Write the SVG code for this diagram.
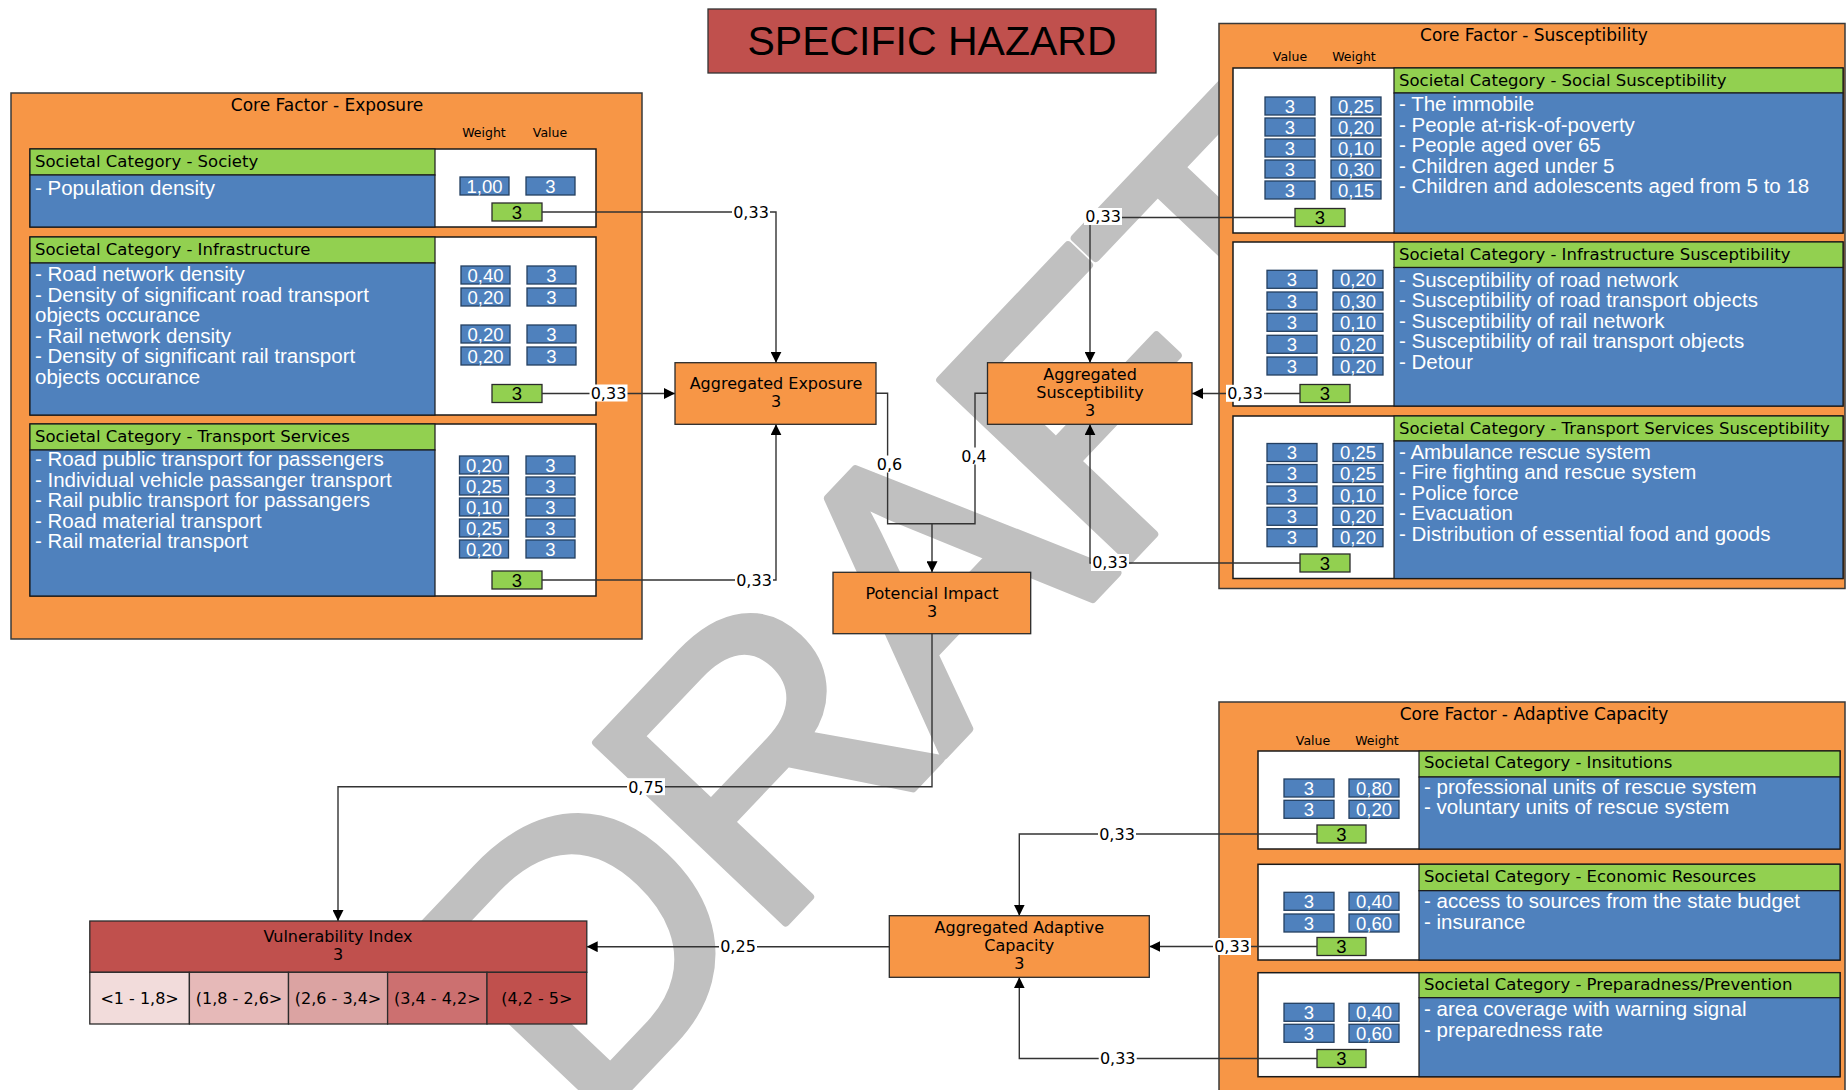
<svg xmlns="http://www.w3.org/2000/svg" width="1847" height="1090" viewBox="0 0 1847 1090">
<defs>
<marker id="arr" viewBox="0 0 10 10" refX="10" refY="5" markerWidth="11" markerHeight="11" markerUnits="userSpaceOnUse" orient="auto"><path d="M0,0 L10,5 L0,10 z" fill="#000"/></marker>
<style>
.core{fill:#f79646;stroke:#3a3a3a;stroke-width:1.5}
.cat{fill:#fff;stroke:#1a1a1a;stroke-width:1.5}
.hdr{fill:#92d050;stroke:#1a1a1a;stroke-width:1.2}
.bdy{fill:#4f81bd;stroke:#1a1a1a;stroke-width:1.2}
.vb{fill:#4f81bd;stroke:#243f60;stroke-width:1.3}
.gb{fill:#92d050;stroke:#2b2b2b;stroke-width:1.3}
.nd{fill:#f79646;stroke:#2b2b2b;stroke-width:1.3}
.ln{fill:none;stroke:#333;stroke-width:1.4}
.ar{marker-end:url(#arr)}
.lbg{fill:#fff}
.ttl{font-family:"DejaVu Sans",sans-serif;font-size:17px;fill:#000;text-anchor:middle}
.sm{font-family:"DejaVu Sans",sans-serif;font-size:12.5px;fill:#000;text-anchor:middle}
.th{font-family:"DejaVu Sans",sans-serif;font-size:16.5px;fill:#000}
.tb{font-family:"Liberation Sans",Arial,sans-serif;font-size:20.5px;fill:#fff}
.tv{font-family:"Liberation Sans",Arial,sans-serif;font-size:18.5px;fill:#fff;text-anchor:middle}
.tg{font-family:"Liberation Sans",Arial,sans-serif;font-size:18.5px;fill:#000;text-anchor:middle}
.tn{font-family:"DejaVu Sans",sans-serif;font-size:16px;fill:#000;text-anchor:middle}
.tl{font-family:"DejaVu Sans",sans-serif;font-size:16px;fill:#000;text-anchor:middle}
.wm{font-family:"Liberation Sans",Arial,sans-serif;font-size:380px;letter-spacing:-14px;fill:#c0c0c0;stroke:#c0c0c0;stroke-width:8;stroke-linejoin:round}
</style>
</defs>
<rect x="0" y="0" width="1847" height="1090" fill="#fff"/>
<text class="wm" transform="translate(585,1134) rotate(-46.5)" x="0" y="0">DRAFT</text>

<g id="title">
<rect x="708" y="9" width="448" height="64" fill="#c0504d" stroke="#333" stroke-width="1.3"/>
<text x="932" y="55" font-family="Liberation Sans, Arial, sans-serif" font-size="41" text-anchor="middle" fill="#000">SPECIFIC HAZARD</text>
</g>

<g id="core-exposure">
<rect class="core" x="11" y="93" width="631" height="546"/>
<text class="ttl" x="327" y="111">Core Factor - Exposure</text>
<text class="sm" x="484" y="137">Weight</text>
<text class="sm" x="550" y="137">Value</text>
</g>
<g id="cat-society">
<rect class="cat" x="30" y="149" width="566" height="78"/>
<rect class="hdr" x="30" y="149" width="405" height="26"/>
<rect class="bdy" x="30" y="175" width="405" height="52"/>
<text class="th" x="35" y="167">Societal Category - Society</text>
<text class="tb" x="35" y="195">- Population density</text>
<rect class="vb" x="460" y="177" width="49" height="18"/><text class="tv" x="484.5" y="192.6">1,00</text>
<rect class="vb" x="526" y="177" width="49" height="18"/><text class="tv" x="550.5" y="192.6">3</text>
<rect class="gb" x="492" y="203" width="50" height="18"/><text class="tg" x="517" y="218.6">3</text>
</g>
<g id="cat-infrastructure">
<rect class="cat" x="30" y="237" width="566" height="178"/>
<rect class="hdr" x="30" y="237" width="405" height="26"/>
<rect class="bdy" x="30" y="263" width="405" height="152"/>
<text class="th" x="35" y="255">Societal Category - Infrastructure</text>
<text class="tb"><tspan x="35" y="281">- Road network density</tspan><tspan x="35" y="301.5">- Density of significant road transport</tspan><tspan x="35" y="322">objects occurance</tspan><tspan x="35" y="342.5">- Rail network density</tspan><tspan x="35" y="363">- Density of significant rail transport</tspan><tspan x="35" y="383.5">objects occurance</tspan></text>
<rect class="vb" x="461" y="266" width="49" height="18"/><text class="tv" x="485.5" y="281.6">0,40</text>
<rect class="vb" x="527" y="266" width="49" height="18"/><text class="tv" x="551.5" y="281.6">3</text>
<rect class="vb" x="461" y="288" width="49" height="18"/><text class="tv" x="485.5" y="303.6">0,20</text>
<rect class="vb" x="527" y="288" width="49" height="18"/><text class="tv" x="551.5" y="303.6">3</text>
<rect class="vb" x="461" y="325" width="49" height="18"/><text class="tv" x="485.5" y="340.6">0,20</text>
<rect class="vb" x="527" y="325" width="49" height="18"/><text class="tv" x="551.5" y="340.6">3</text>
<rect class="vb" x="461" y="347" width="49" height="18"/><text class="tv" x="485.5" y="362.6">0,20</text>
<rect class="vb" x="527" y="347" width="49" height="18"/><text class="tv" x="551.5" y="362.6">3</text>
<rect class="gb" x="492" y="384.5" width="50" height="18"/><text class="tg" x="517" y="400.1">3</text>
</g>
<g id="cat-transport">
<rect class="cat" x="30" y="424" width="566" height="172"/>
<rect class="hdr" x="30" y="424" width="405" height="26"/>
<rect class="bdy" x="30" y="450" width="405" height="146"/>
<text class="th" x="35" y="442">Societal Category - Transport Services</text>
<text class="tb"><tspan x="35" y="466">- Road public transport for passengers</tspan><tspan x="35" y="486.5">- Individual vehicle passanger transport</tspan><tspan x="35" y="507">- Rail public transport for passangers</tspan><tspan x="35" y="527.5">- Road material transport</tspan><tspan x="35" y="548">- Rail material transport</tspan></text>
<rect class="vb" x="459.5" y="456" width="49" height="18"/><text class="tv" x="484" y="471.6">0,20</text>
<rect class="vb" x="526" y="456" width="49" height="18"/><text class="tv" x="550.5" y="471.6">3</text>
<rect class="vb" x="459.5" y="477" width="49" height="18"/><text class="tv" x="484" y="492.6">0,25</text>
<rect class="vb" x="526" y="477" width="49" height="18"/><text class="tv" x="550.5" y="492.6">3</text>
<rect class="vb" x="459.5" y="498" width="49" height="18"/><text class="tv" x="484" y="513.6">0,10</text>
<rect class="vb" x="526" y="498" width="49" height="18"/><text class="tv" x="550.5" y="513.6">3</text>
<rect class="vb" x="459.5" y="519" width="49" height="18"/><text class="tv" x="484" y="534.6">0,25</text>
<rect class="vb" x="526" y="519" width="49" height="18"/><text class="tv" x="550.5" y="534.6">3</text>
<rect class="vb" x="459.5" y="540" width="49" height="18"/><text class="tv" x="484" y="555.6">0,20</text>
<rect class="vb" x="526" y="540" width="49" height="18"/><text class="tv" x="550.5" y="555.6">3</text>
<rect class="gb" x="492" y="571" width="50" height="18"/><text class="tg" x="517" y="586.6">3</text>
</g>

<g id="core-susceptibility">
<rect class="core" x="1219" y="23.5" width="626" height="565"/>
<text class="ttl" x="1534" y="41">Core Factor - Susceptibility</text>
<text class="sm" x="1290" y="61">Value</text>
<text class="sm" x="1354" y="61">Weight</text>
</g>
<g id="cat-social-susceptibility">
<rect class="cat" x="1233" y="68" width="610" height="165"/>
<rect class="hdr" x="1394" y="68" width="449" height="25"/>
<rect class="bdy" x="1394" y="93" width="449" height="140"/>
<text class="th" x="1399" y="85.5">Societal Category - Social Susceptibility</text>
<text class="tb"><tspan x="1399" y="111">- The immobile</tspan><tspan x="1399" y="131.5">- People at-risk-of-poverty</tspan><tspan x="1399" y="152">- People aged over 65</tspan><tspan x="1399" y="172.5">- Children aged under 5</tspan><tspan x="1399" y="193">- Children and adolescents aged from 5 to 18</tspan></text>
<rect class="vb" x="1265" y="97" width="50" height="18"/><text class="tv" x="1290" y="112.6">3</text>
<rect class="vb" x="1331" y="97" width="50" height="18"/><text class="tv" x="1356" y="112.6">0,25</text>
<rect class="vb" x="1265" y="118" width="50" height="18"/><text class="tv" x="1290" y="133.6">3</text>
<rect class="vb" x="1331" y="118" width="50" height="18"/><text class="tv" x="1356" y="133.6">0,20</text>
<rect class="vb" x="1265" y="139" width="50" height="18"/><text class="tv" x="1290" y="154.6">3</text>
<rect class="vb" x="1331" y="139" width="50" height="18"/><text class="tv" x="1356" y="154.6">0,10</text>
<rect class="vb" x="1265" y="160" width="50" height="18"/><text class="tv" x="1290" y="175.6">3</text>
<rect class="vb" x="1331" y="160" width="50" height="18"/><text class="tv" x="1356" y="175.6">0,30</text>
<rect class="vb" x="1265" y="181" width="50" height="18"/><text class="tv" x="1290" y="196.6">3</text>
<rect class="vb" x="1331" y="181" width="50" height="18"/><text class="tv" x="1356" y="196.6">0,15</text>
<rect class="gb" x="1295" y="208.5" width="50" height="18"/><text class="tg" x="1320" y="224.1">3</text>
</g>
<g id="cat-infrastructure-susceptibility">
<rect class="cat" x="1233" y="242" width="610" height="164"/>
<rect class="hdr" x="1394" y="242" width="449" height="25.5"/>
<rect class="bdy" x="1394" y="267.5" width="449" height="138.5"/>
<text class="th" x="1399" y="260">Societal Category - Infrastructure Susceptibility</text>
<text class="tb"><tspan x="1399" y="286.7">- Susceptibility of road network</tspan><tspan x="1399" y="307.2">- Susceptibility of road transport objects</tspan><tspan x="1399" y="327.7">- Susceptibility of rail network</tspan><tspan x="1399" y="348.2">- Susceptibility of rail transport objects</tspan><tspan x="1399" y="368.7">- Detour</tspan></text>
<rect class="vb" x="1267" y="270.3" width="50" height="18"/><text class="tv" x="1292" y="285.9">3</text>
<rect class="vb" x="1333" y="270.3" width="50" height="18"/><text class="tv" x="1358" y="285.9">0,20</text>
<rect class="vb" x="1267" y="292" width="50" height="18"/><text class="tv" x="1292" y="307.6">3</text>
<rect class="vb" x="1333" y="292" width="50" height="18"/><text class="tv" x="1358" y="307.6">0,30</text>
<rect class="vb" x="1267" y="313.3" width="50" height="18"/><text class="tv" x="1292" y="328.9">3</text>
<rect class="vb" x="1333" y="313.3" width="50" height="18"/><text class="tv" x="1358" y="328.9">0,10</text>
<rect class="vb" x="1267" y="335.3" width="50" height="18"/><text class="tv" x="1292" y="350.9">3</text>
<rect class="vb" x="1333" y="335.3" width="50" height="18"/><text class="tv" x="1358" y="350.9">0,20</text>
<rect class="vb" x="1267" y="357" width="50" height="18"/><text class="tv" x="1292" y="372.6">3</text>
<rect class="vb" x="1333" y="357" width="50" height="18"/><text class="tv" x="1358" y="372.6">0,20</text>
<rect class="gb" x="1300" y="384.5" width="50" height="18"/><text class="tg" x="1325" y="400.1">3</text>
</g>
<g id="cat-transport-susceptibility">
<rect class="cat" x="1233" y="416" width="610" height="162.5"/>
<rect class="hdr" x="1394" y="416" width="449" height="25"/>
<rect class="bdy" x="1394" y="441" width="449" height="137.5"/>
<text class="th" x="1399" y="433.5">Societal Category - Transport Services Susceptibility</text>
<text class="tb"><tspan x="1399" y="458.7">- Ambulance rescue system</tspan><tspan x="1399" y="479.3">- Fire fighting and rescue system</tspan><tspan x="1399" y="500">- Police force</tspan><tspan x="1399" y="520.3">- Evacuation</tspan><tspan x="1399" y="541">- Distribution of essential food and goods</tspan></text>
<rect class="vb" x="1267" y="443.5" width="50" height="18"/><text class="tv" x="1292" y="459.1">3</text>
<rect class="vb" x="1333" y="443.5" width="50" height="18"/><text class="tv" x="1358" y="459.1">0,25</text>
<rect class="vb" x="1267" y="464.5" width="50" height="18"/><text class="tv" x="1292" y="480.1">3</text>
<rect class="vb" x="1333" y="464.5" width="50" height="18"/><text class="tv" x="1358" y="480.1">0,25</text>
<rect class="vb" x="1267" y="486" width="50" height="18"/><text class="tv" x="1292" y="501.6">3</text>
<rect class="vb" x="1333" y="486" width="50" height="18"/><text class="tv" x="1358" y="501.6">0,10</text>
<rect class="vb" x="1267" y="507.3" width="50" height="18"/><text class="tv" x="1292" y="522.9">3</text>
<rect class="vb" x="1333" y="507.3" width="50" height="18"/><text class="tv" x="1358" y="522.9">0,20</text>
<rect class="vb" x="1267" y="528.7" width="50" height="18"/><text class="tv" x="1292" y="544.3">3</text>
<rect class="vb" x="1333" y="528.7" width="50" height="18"/><text class="tv" x="1358" y="544.3">0,20</text>
<rect class="gb" x="1300" y="554" width="50" height="18"/><text class="tg" x="1325" y="569.6">3</text>
</g>

<g id="core-adaptive">
<rect class="core" x="1219" y="702" width="626" height="400"/>
<text class="ttl" x="1534" y="720">Core Factor - Adaptive Capacity</text>
<text class="sm" x="1313" y="745">Value</text>
<text class="sm" x="1377" y="745">Weight</text>
</g>
<g id="cat-institutions">
<rect class="cat" x="1258" y="751" width="582" height="98"/>
<rect class="hdr" x="1419" y="751" width="421" height="26"/>
<rect class="bdy" x="1419" y="777" width="421" height="72"/>
<text class="th" x="1424" y="768">Societal Category - Insitutions</text>
<text class="tb"><tspan x="1424" y="794.3">- professional units of rescue system</tspan><tspan x="1424" y="814.3">- voluntary units of rescue system</tspan></text>
<rect class="vb" x="1284" y="779" width="50" height="18"/><text class="tv" x="1309" y="794.6">3</text>
<rect class="vb" x="1349" y="779" width="50" height="18"/><text class="tv" x="1374" y="794.6">0,80</text>
<rect class="vb" x="1284" y="800.3" width="50" height="18"/><text class="tv" x="1309" y="815.9">3</text>
<rect class="vb" x="1349" y="800.3" width="50" height="18"/><text class="tv" x="1374" y="815.9">0,20</text>
<rect class="gb" x="1317" y="825" width="49" height="18"/><text class="tg" x="1341.5" y="840.6">3</text>
</g>
<g id="cat-economic">
<rect class="cat" x="1258" y="864.3" width="582" height="95.7"/>
<rect class="hdr" x="1419" y="864.3" width="421" height="26.4"/>
<rect class="bdy" x="1419" y="890.7" width="421" height="69.3"/>
<text class="th" x="1424" y="881.7">Societal Category - Economic Resources</text>
<text class="tb"><tspan x="1424" y="908.3">- access to sources from the state budget</tspan><tspan x="1424" y="928.7">- insurance</tspan></text>
<rect class="vb" x="1284" y="892.3" width="50" height="18"/><text class="tv" x="1309" y="907.9">3</text>
<rect class="vb" x="1349" y="892.3" width="50" height="18"/><text class="tv" x="1374" y="907.9">0,40</text>
<rect class="vb" x="1284" y="914" width="50" height="18"/><text class="tv" x="1309" y="929.6">3</text>
<rect class="vb" x="1349" y="914" width="50" height="18"/><text class="tv" x="1374" y="929.6">0,60</text>
<rect class="gb" x="1317" y="937.5" width="49" height="18"/><text class="tg" x="1341.5" y="953.1">3</text>
</g>
<g id="cat-preparadness">
<rect class="cat" x="1258" y="972.7" width="582" height="104"/>
<rect class="hdr" x="1419" y="972.7" width="421" height="25"/>
<rect class="bdy" x="1419" y="997.7" width="421" height="79"/>
<text class="th" x="1424" y="990">Societal Category - Preparadness/Prevention</text>
<text class="tb"><tspan x="1424" y="1016">- area coverage with warning signal</tspan><tspan x="1424" y="1036.7">- preparedness rate</tspan></text>
<rect class="vb" x="1284" y="1003.3" width="50" height="18"/><text class="tv" x="1309" y="1018.9">3</text>
<rect class="vb" x="1349" y="1003.3" width="50" height="18"/><text class="tv" x="1374" y="1018.9">0,40</text>
<rect class="vb" x="1284" y="1024.3" width="50" height="18"/><text class="tv" x="1309" y="1039.9">3</text>
<rect class="vb" x="1349" y="1024.3" width="50" height="18"/><text class="tv" x="1374" y="1039.9">0,60</text>
<rect class="gb" x="1317" y="1049.5" width="49" height="18"/><text class="tg" x="1341.5" y="1065.1">3</text>
</g>

<g id="connectors">
<path class="ln ar" d="M542,212 H776 V362.7"/>
<path class="ln ar" d="M542,393.5 H675"/>
<path class="ln ar" d="M542,580 H776 V424.3"/>
<path class="ln" d="M876,393.3 H887.6 V523.7 H932"/>
<path class="ln" d="M987.5,393.3 H975 V523.7 H932"/>
<path class="ln ar" d="M932,523.7 V572.3"/>
<path class="ln ar" d="M1295,217.5 H1090 V362.7"/>
<path class="ln ar" d="M1300,393.5 H1192"/>
<path class="ln ar" d="M1300,563 H1090 V424.3"/>
<path class="ln ar" d="M932,633.7 V786.7 H338 V921"/>
<path class="ln ar" d="M1317,834 H1019.3 V915.7"/>
<path class="ln ar" d="M1317,946.5 H1149.3"/>
<path class="ln ar" d="M1317,1058.5 H1019.3 V977.3"/>
<path class="ln ar" d="M889.3,946.7 H586.7"/>
<rect class="lbg" x="732" y="203.5" width="38" height="17"/><text class="tl" x="751" y="217.8">0,33</text>
<rect class="lbg" x="589.5" y="384.5" width="38" height="17"/><text class="tl" x="608.5" y="398.8">0,33</text>
<rect class="lbg" x="735" y="571.5" width="38" height="17"/><text class="tl" x="754" y="585.8">0,33</text>
<rect class="lbg" x="875.5" y="455.5" width="28" height="17"/><text class="tl" x="889.5" y="469.8">0,6</text>
<rect class="lbg" x="960" y="447.5" width="28" height="17"/><text class="tl" x="974" y="461.8">0,4</text>
<rect class="lbg" x="1084" y="208" width="38" height="17"/><text class="tl" x="1103" y="222.3">0,33</text>
<rect class="lbg" x="1226" y="384.8" width="38" height="17"/><text class="tl" x="1245" y="399.1">0,33</text>
<rect class="lbg" x="1091" y="554" width="38" height="17"/><text class="tl" x="1110" y="568.3">0,33</text>
<rect class="lbg" x="627" y="778.2" width="38" height="17"/><text class="tl" x="646" y="792.5">0,75</text>
<rect class="lbg" x="1098" y="825.5" width="38" height="17"/><text class="tl" x="1117" y="839.8">0,33</text>
<rect class="lbg" x="1213" y="938" width="38" height="17"/><text class="tl" x="1232" y="952.3">0,33</text>
<rect class="lbg" x="1098.7" y="1049.8" width="38" height="17"/><text class="tl" x="1117.7" y="1064.1">0,33</text>
<rect class="lbg" x="719" y="937.2" width="38" height="17"/><text class="tl" x="738" y="951.5">0,25</text>
</g>

<g id="node-aggregated-exposure">
<rect class="nd" x="675" y="362.7" width="201" height="61.6"/>
<text class="tn"><tspan x="776" y="389.3">Aggregated Exposure</tspan><tspan x="776" y="407.3">3</tspan></text>
</g>
<g id="node-aggregated-susceptibility">
<rect class="nd" x="987.5" y="362.7" width="204.5" height="61.6"/>
<text class="tn"><tspan x="1090" y="380">Aggregated</tspan><tspan x="1090" y="398.3">Susceptibility</tspan><tspan x="1090" y="416">3</tspan></text>
</g>
<g id="node-potencial-impact">
<rect class="nd" x="833" y="572.3" width="197.7" height="61.4"/>
<text class="tn"><tspan x="932" y="598.7">Potencial Impact</tspan><tspan x="932" y="616.7">3</tspan></text>
</g>
<g id="node-aggregated-adaptive">
<rect class="nd" x="889.3" y="915.7" width="260" height="61.6"/>
<text class="tn"><tspan x="1019.3" y="932.7">Aggregated Adaptive</tspan><tspan x="1019.3" y="951">Capacity</tspan><tspan x="1019.3" y="969">3</tspan></text>
</g>
<g id="node-vulnerability-index">
<rect x="89.8" y="921" width="497" height="51.3" fill="#c0504d" stroke="#2b2b2b" stroke-width="1.3"/>
<rect x="89.8" y="972.3" width="99.6" height="51.7" fill="#f2dcdb" stroke="#2b2b2b" stroke-width="1.3"/>
<rect x="189.4" y="972.3" width="99.1" height="51.7" fill="#e6b9b8" stroke="#2b2b2b" stroke-width="1.3"/>
<rect x="288.5" y="972.3" width="99.1" height="51.7" fill="#dba3a2" stroke="#2b2b2b" stroke-width="1.3"/>
<rect x="387.6" y="972.3" width="99.4" height="51.7" fill="#cc7070" stroke="#2b2b2b" stroke-width="1.3"/>
<rect x="487" y="972.3" width="99.7" height="51.7" fill="#c0504d" stroke="#2b2b2b" stroke-width="1.3"/>
<text class="tn"><tspan x="338" y="941.7">Vulnerability Index</tspan><tspan x="338" y="960">3</tspan></text>
<text class="tn" x="139.6" y="1004">&lt;1 - 1,8&gt;</text>
<text class="tn" x="239" y="1004">(1,8 - 2,6&gt;</text>
<text class="tn" x="338" y="1004">(2,6 - 3,4&gt;</text>
<text class="tn" x="437.3" y="1004">(3,4 - 4,2&gt;</text>
<text class="tn" x="536.8" y="1004">(4,2 - 5&gt;</text>
</g>
</svg>
